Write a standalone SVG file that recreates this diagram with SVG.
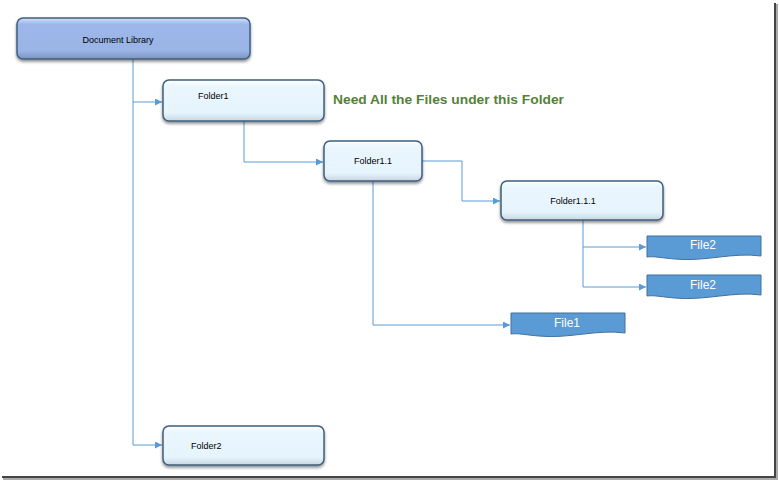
<svg xmlns="http://www.w3.org/2000/svg" width="779" height="481" viewBox="0 0 779 481">
<defs>
<style>
.lbl{font-family:"Liberation Sans",Arial,sans-serif;font-size:9px;fill:#000}
.flbl{font-family:"Liberation Sans",Arial,sans-serif;font-size:12px;fill:#fff}
.conn{fill:none;stroke:#5b9bd5;stroke-width:1}
.box{stroke:#3d5f7f;stroke-width:1.5}
.file{fill:#5b9bd5;stroke:#41719c;stroke-width:1}
</style>
<linearGradient id="gFolder" x1="0" y1="0" x2="0" y2="1">
<stop offset="0" stop-color="#ffffff"/>
<stop offset="0.15" stop-color="#eaf6fe"/>
<stop offset="0.8" stop-color="#e6f4fd"/>
<stop offset="1" stop-color="#c9d6df"/>
</linearGradient>
<linearGradient id="gDoc" x1="0" y1="0" x2="0" y2="1">
<stop offset="0" stop-color="#d4e1f7"/>
<stop offset="0.15" stop-color="#9db7ea"/>
<stop offset="0.8" stop-color="#9ab4e6"/>
<stop offset="1" stop-color="#7e93bd"/>
</linearGradient>
<filter id="sh" x="-10%" y="-20%" width="120%" height="150%">
<feGaussianBlur in="SourceAlpha" stdDeviation="1.5"/>
<feOffset dy="2" result="b"/>
<feComponentTransfer><feFuncA type="linear" slope="0.45"/></feComponentTransfer>
<feMerge><feMergeNode/><feMergeNode in="SourceGraphic"/></feMerge>
</filter>
<marker id="arr" viewBox="0 0 10 10" refX="10" refY="5" markerWidth="7" markerHeight="7" orient="auto" markerUnits="userSpaceOnUse">
<path d="M0,0 L10,5 L0,10 z" fill="#5b9bd5"/>
</marker>
</defs>
<rect width="779" height="481" fill="#fff"/>
<!-- frame shadow -->
<rect x="774" y="3" width="2" height="475" fill="#444"/>
<rect x="776" y="4" width="2" height="475" fill="#aaa"/>
<rect x="2" y="476" width="774" height="2" fill="#444"/>
<rect x="3" y="478" width="775" height="2" fill="#aaa"/>

<g id="connectors">
<path class="conn" d="M133,59 V445 H162" marker-end="url(#arr)"/>
<path class="conn" d="M133,102 H162" marker-end="url(#arr)"/>
<path class="conn" d="M244,121 V162 H323" marker-end="url(#arr)"/>
<path class="conn" d="M422,161 H462 V201 H500" marker-end="url(#arr)"/>
<path class="conn" d="M373,181 V325 H510" marker-end="url(#arr)"/>
<path class="conn" d="M583,220 V287 H646" marker-end="url(#arr)"/>
<path class="conn" d="M583,247 H646" marker-end="url(#arr)"/>
</g>

<g id="doc-library">
<rect class="box" x="17" y="18" width="233" height="41" rx="6" fill="url(#gDoc)" filter="url(#sh)"/>
<text class="lbl" x="118" y="43" text-anchor="middle">Document Library</text>
</g>
<g id="folder1">
<rect class="box" x="163" y="80" width="161" height="41" rx="6" fill="url(#gFolder)" filter="url(#sh)"/>
<text class="lbl" x="198" y="99">Folder1</text>
</g>
<g id="folder1-1">
<rect class="box" x="324" y="141" width="98" height="40" rx="6" fill="url(#gFolder)" filter="url(#sh)"/>
<text class="lbl" x="373" y="164" text-anchor="middle">Folder1.1</text>
</g>
<g id="folder1-1-1">
<rect class="box" x="501" y="181" width="162" height="39" rx="6" fill="url(#gFolder)" filter="url(#sh)"/>
<text class="lbl" x="573" y="204" text-anchor="middle">Folder1.1.1</text>
</g>
<g id="folder2">
<rect class="box" x="163" y="426" width="161" height="39" rx="6" fill="url(#gFolder)" filter="url(#sh)"/>
<text class="lbl" x="191" y="449">Folder2</text>
</g>
<g id="file2a">
<path class="file" d="M647,236 H761 V256 C733,252 705,262 675,259 C662,258 654,256 647,257 Z"/>
<text class="flbl" x="703" y="249" text-anchor="middle">File2</text>
</g>
<g id="file2b">
<path class="file" d="M647,275 H761 V295 C733,291 705,301 675,298 C662,297 654,295 647,296 Z"/>
<text class="flbl" x="703" y="289" text-anchor="middle">File2</text>
</g>
<g id="file1">
<path class="file" d="M511,313 H625 V333 C597,329 569,339 539,336 C526,335 518,333 511,334 Z"/>
<text class="flbl" x="567" y="327" text-anchor="middle">File1</text>
</g>
<g id="note">
<text x="333" y="104" font-family="'Liberation Sans',Arial,sans-serif" font-size="13.5" font-weight="bold" fill="#548235" textLength="231" lengthAdjust="spacingAndGlyphs">Need All the Files under this Folder</text>
</g>
</svg>
